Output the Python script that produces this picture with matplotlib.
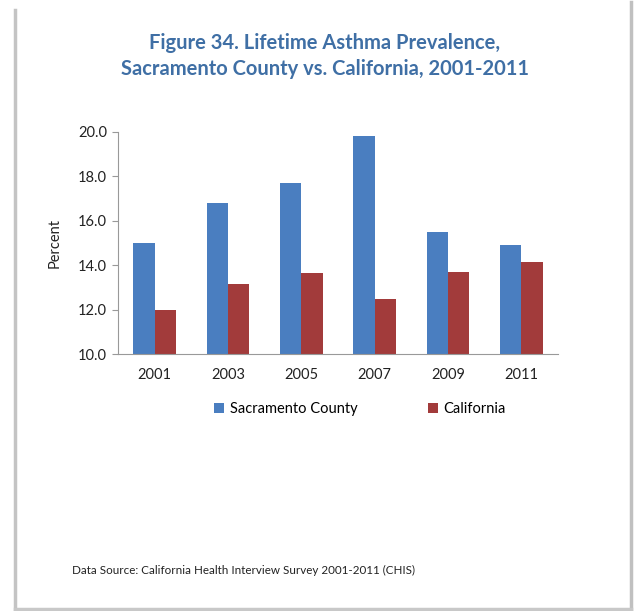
import numpy as np
import matplotlib.pyplot as plt
from matplotlib.lines import Line2D

years = ["2001", "2003", "2005", "2007", "2009", "2011"]
sacramento = [15.0, 16.8, 17.7, 19.8, 15.5, 14.9]
california = [12.0, 13.15, 13.65, 12.5, 13.7, 14.15]

plt.rcParams['font.family'] = ['Lato', 'DejaVu Sans']

fig = plt.figure(figsize=(6.38, 6.11), dpi=100)
W, H = 638, 611

# page edges (soft gray shadow lines, no top edge)
for xs, ys, lw, c in [([15, 15], [10, 611], 2.5, '#c4c4c4'),
                      ([631, 631], [2, 611], 2.5, '#c0c0c0'),
                      ([15, 631], [609, 609], 2.5, '#c8c8c8')]:
    fig.add_artist(Line2D(np.array(xs) / W, 1 - np.array(ys) / H, lw=lw, color=c,
                          transform=fig.transFigure))

ax = fig.add_axes([118 / W, 1 - 354 / H, 440 / W, 222 / H])
ax.patch.set_alpha(0)
x = np.arange(len(years))
w = 0.29
ax.bar(x - w / 2, np.array(sacramento) - 10, w, bottom=10, color='#4A7EC0', label='Sacramento County')
ax.bar(x + w / 2, np.array(california) - 10, w, bottom=10, color='#A23B3B', label='California')

ax.set_xlim(-0.5, len(years) - 0.5)
ax.set_ylim(10, 20)
ax.set_yticks(np.arange(10, 20.1, 2))
ax.set_yticklabels([f"{v:.1f}" for v in np.arange(10, 20.1, 2)])
ax.set_xticks(x)
ax.set_xticklabels(years)
ax.tick_params(axis='x', length=0, pad=10, labelsize=10.5, colors='#222222')
ax.tick_params(axis='y', length=4, color='#999999', labelsize=10.5, colors='#222222', pad=4)
for s in ['top', 'right']:
    ax.spines[s].set_visible(False)
for s in ['left', 'bottom']:
    ax.spines[s].set_color('#999999')
ax.set_ylabel('Percent', fontsize=10.5, color='#222222', labelpad=12)

fig.text(325 / W, 1 - 56 / H, "Figure 34. Lifetime Asthma Prevalence,\nSacramento County vs. California, 2001-2011",
         ha='center', va='center', fontsize=14.5, fontweight='bold', color='#3F6FA5', linespacing=1.35)

fig.legend(loc='center', bbox_to_anchor=(360 / W, 1 - 409 / H), ncol=2, frameon=False,
           fontsize=10.5, handlelength=0.7, handleheight=0.7, columnspacing=4.8, handletextpad=0.4)

fig.text(72 / W, 1 - 570 / H, "Data Source: California Health Interview Survey 2001-2011 (CHIS)",
         ha='left', va='center', fontsize=8.4, color='#222222')

fig.savefig("out.png", dpi=100)
